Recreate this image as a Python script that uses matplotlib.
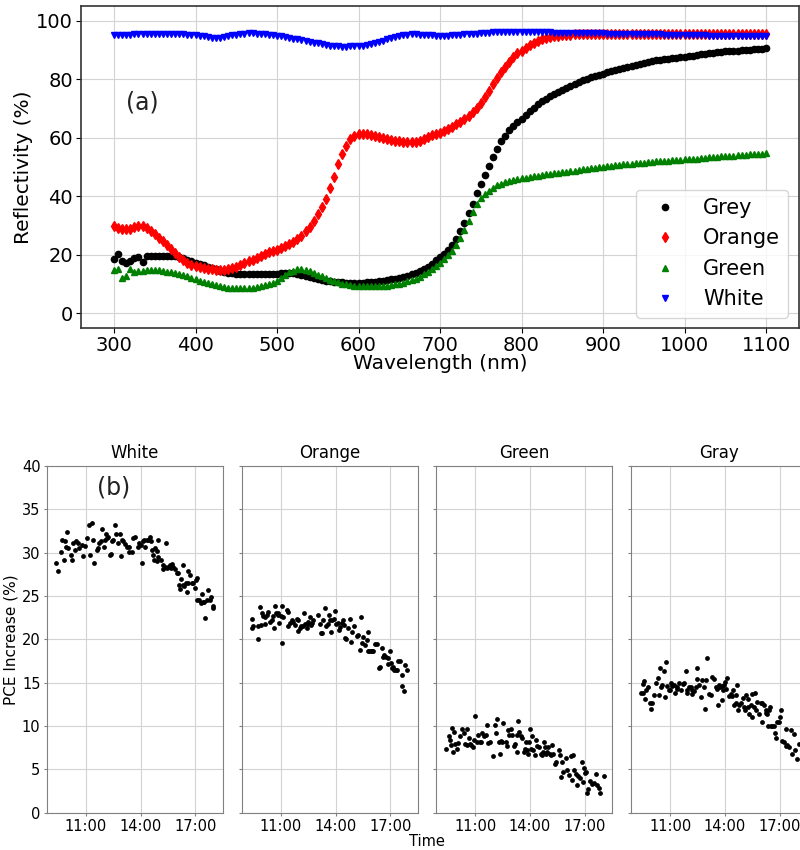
import numpy as np
import matplotlib
matplotlib.use("Agg")
import matplotlib.pyplot as plt

# ---------------- (a) reflectance spectra, 300-1100 nm every 5 nm ----------------
wavelength = np.arange(300, 1101, 5)

refl_grey = [
    18.6, 20.4, 17.8, 17.2, 17.8, 18.8, 19.3, 17.5, 19.7, 19.5,   # 300
    19.5, 19.6, 19.6, 19.7, 19.7, 19.5, 19.2, 18.8, 18.3, 17.8,   # 350
    17.3, 16.9, 16.5, 16.0, 15.5, 15.1, 14.6, 14.2, 13.9, 13.7,   # 400
    13.5, 13.4, 13.3, 13.3, 13.3, 13.3, 13.3, 13.3, 13.4, 13.5,   # 450
    13.6, 13.7, 13.8, 13.8, 13.7, 13.5, 13.2, 12.9, 12.5, 12.1,   # 500
    11.8, 11.5, 11.2, 11.0, 10.8, 10.7, 10.6, 10.5, 10.4, 10.4,   # 550
    10.4, 10.5, 10.6, 10.7, 10.8, 10.9, 11.1, 11.4, 11.6, 11.8,   # 600
    12.0, 12.4, 12.9, 13.3, 13.8, 14.4, 15.1, 16.0, 17.0, 18.2,   # 650
    19.3, 20.2, 21.5, 23.2, 25.4, 28.0, 30.9, 34.2, 37.5, 41.0,   # 700
    44.3, 47.4, 50.5, 53.3, 56.2, 58.8, 60.7, 62.5, 64.0, 65.3,   # 750
    66.5, 67.7, 69.0, 70.2, 71.4, 72.4, 73.4, 74.2, 75.0, 75.7,   # 800
    76.3, 77.0, 77.7, 78.4, 79.0, 79.6, 80.1, 80.6, 81.0, 81.5,   # 850
    81.9, 82.3, 82.7, 83.1, 83.5, 83.9, 84.3, 84.6, 85.0, 85.3,   # 900
    85.6, 85.9, 86.2, 86.4, 86.6, 86.8, 87.0, 87.2, 87.4, 87.5,   # 950
    87.7, 87.9, 88.1, 88.3, 88.5, 88.7, 88.9, 89.0, 89.2, 89.3,   # 1000
    89.5, 89.6, 89.7, 89.8, 89.9, 90.0, 90.1, 90.2, 90.3, 90.4,   # 1050
    90.5,
]

refl_orange = [
    29.9, 29.2, 28.8, 28.8, 28.9, 29.5, 29.9, 29.8, 29.2, 28.2,   # 300
    27.0, 25.8, 24.6, 23.3, 22.0, 20.7, 19.3, 18.1, 17.2, 16.6,   # 350
    16.2, 15.9, 15.6, 15.3, 15.0, 14.9, 14.9, 14.9, 15.0, 15.4,   # 400
    16.0, 16.6, 17.2, 17.8, 18.4, 19.0, 19.6, 20.2, 20.8, 21.3,   # 450
    21.8, 22.4, 23.0, 23.7, 24.5, 25.4, 26.6, 28.0, 29.5, 31.5,   # 500
    33.8, 36.5, 39.2, 43.0, 46.5, 51.0, 54.5, 57.3, 59.6, 60.7,   # 550
    61.2, 61.3, 61.2, 60.9, 60.5, 60.1, 59.8, 59.5, 59.2, 59.0,   # 600
    58.8, 58.6, 58.6, 58.6, 58.7, 59.0, 59.6, 60.3, 60.8, 61.3,   # 650
    61.7, 62.2, 63.0, 63.8, 64.6, 65.4, 66.3, 67.5, 68.8, 70.3,   # 700
    72.0, 73.8, 76.0, 78.4, 80.5, 82.5, 84.3, 86.0, 87.6, 88.8,   # 750
    89.8, 90.8, 91.7, 92.5, 93.1, 93.7, 94.1, 94.4, 94.7, 94.9,   # 800
    95.0, 95.1, 95.2, 95.3, 95.3, 95.4, 95.4, 95.4, 95.5, 95.5,   # 850
    95.5, 95.6, 95.5, 95.6, 95.5, 95.6, 95.6, 95.5, 95.6, 95.5,   # 900
    95.6, 95.5, 95.5, 95.6, 95.5, 95.5, 95.6, 95.5, 95.5, 95.6,   # 950
    95.5, 95.5, 95.4, 95.5, 95.5, 95.4, 95.5, 95.5, 95.4, 95.5,   # 1000
    95.5, 95.4, 95.5, 95.5, 95.4, 95.5, 95.5, 95.4, 95.5, 95.5,   # 1050
    95.5,
]

refl_green = [
    14.7, 15.2, 12.1, 12.7, 15.2, 14.2, 14.5, 14.6, 14.7, 14.8,   # 300
    14.8, 14.7, 14.5, 14.3, 14.0, 13.8, 13.5, 13.1, 12.6, 12.1,   # 350
    11.6, 11.1, 10.7, 10.3, 9.9, 9.6, 9.3, 9.0, 8.8, 8.7,         # 400
    8.6, 8.6, 8.6, 8.7, 8.8, 9.0, 9.3, 9.6, 9.9, 10.4,            # 450
    11.0, 12.0, 13.1, 14.0, 14.6, 15.0, 15.1, 14.9, 14.5, 13.9,   # 500
    13.2, 12.6, 12.0, 11.5, 11.0, 10.6, 10.2, 9.9, 9.7, 9.5,      # 550
    9.4, 9.3, 9.3, 9.3, 9.3, 9.4, 9.4, 9.5, 9.7, 9.9,             # 600
    10.2, 10.5, 10.9, 11.3, 11.8, 12.5, 13.3, 14.3, 15.3, 16.3,   # 650
    17.3, 18.5, 19.8, 21.3, 23.2, 25.6, 28.5, 31.6, 34.5, 37.2,   # 700
    39.3, 40.8, 41.9, 42.9, 43.7, 44.3, 44.8, 45.2, 45.6, 45.9,   # 750
    46.2, 46.4, 46.7, 46.9, 47.1, 47.3, 47.5, 47.7, 47.9, 48.1,   # 800
    48.3, 48.4, 48.6, 48.8, 49.0, 49.2, 49.4, 49.6, 49.8, 50.0,   # 850
    50.1, 50.3, 50.5, 50.7, 50.8, 51.0, 51.1, 51.2, 51.3, 51.4,   # 900
    51.5, 51.7, 51.8, 51.9, 52.0, 52.1, 52.2, 52.3, 52.4, 52.5,   # 950
    52.6, 52.7, 52.8, 52.9, 53.0, 53.1, 53.3, 53.4, 53.5, 53.6,   # 1000
    53.7, 53.8, 53.9, 54.0, 54.1, 54.2, 54.3, 54.4, 54.5, 54.6,   # 1050
    54.8,
]

refl_white = [
    95.1, 95.0, 95.1, 95.2, 95.2, 95.3, 95.3, 95.4, 95.4, 95.4,   # 300
    95.5, 95.5, 95.6, 95.6, 95.6, 95.5, 95.4, 95.3, 95.2, 95.1,   # 350
    95.0, 94.9, 94.7, 94.5, 94.2, 94.0, 94.2, 94.5, 94.8, 95.0,   # 400
    95.1, 95.3, 95.6, 95.8, 95.7, 95.5, 95.4, 95.3, 95.2, 95.1,   # 450
    94.9, 94.7, 94.5, 94.2, 93.9, 93.6, 93.3, 93.0, 92.7, 92.5,   # 500
    92.3, 92.0, 91.7, 91.5, 91.3, 91.2, 91.1, 91.1, 91.2, 91.3,   # 550
    91.3, 91.4, 91.6, 91.9, 92.3, 92.8, 93.2, 93.6, 94.0, 94.4,   # 600
    94.7, 95.0, 95.2, 95.3, 95.3, 95.2, 95.1, 95.0, 95.0, 94.9,   # 650
    94.9, 94.8, 94.9, 95.0, 95.1, 95.2, 95.3, 95.4, 95.5, 95.6,   # 700
    95.7, 95.8, 95.9, 96.0, 96.0, 96.1, 96.1, 96.2, 96.2, 96.2,   # 750
    96.2, 96.2, 96.1, 96.1, 96.0, 96.1, 96.0, 96.0, 95.9, 95.9,   # 800
    95.9, 95.9, 95.9, 95.8, 95.8, 95.8, 95.8, 95.7, 95.7, 95.7,   # 850
    95.7, 95.6, 95.6, 95.6, 95.5, 95.5, 95.5, 95.5, 95.4, 95.4,   # 900
    95.4, 95.4, 95.3, 95.3, 95.3, 95.2, 95.2, 95.2, 95.1, 95.1,   # 950
    95.1, 95.1, 95.0, 95.0, 95.0, 95.0, 94.9, 94.9, 94.9, 94.9,   # 1000
    94.9, 94.8, 94.8, 94.8, 94.8, 94.7, 94.7, 94.7, 94.7, 94.7,   # 1050
    94.7,
]

# ---------------- (b) PCE increase vs time of day (hours) ----------------
white_t = [9.36, 9.47, 9.63, 9.69, 9.78, 9.87, 9.96, 9.92, 10.05, 10.18,
           10.23, 10.32, 10.42, 10.47, 10.56, 10.65, 10.78, 10.84, 10.95, 11.05,
           11.15, 11.24, 11.33, 11.42, 11.47, 11.60, 11.69, 11.75, 11.82, 11.91,
           11.97, 12.06, 12.11, 12.15, 12.24, 12.33, 12.37, 12.42, 12.51, 12.61,
           12.66, 12.79, 12.88, 12.92, 12.97, 13.06, 13.15, 13.24, 13.34, 13.39,
           13.52, 13.61, 13.70, 13.88, 13.94, 14.01, 14.07, 14.12, 14.19, 14.25,
           14.34, 14.43, 14.52, 14.58, 14.65, 14.70, 14.76, 14.80, 14.89, 14.92,
           14.98, 14.98, 15.11, 15.22, 15.25, 15.34, 15.40, 15.43, 15.53, 15.62,
           15.67, 15.71, 15.80, 15.89, 16.02, 16.07, 16.13, 16.16, 16.22, 16.31,
           16.35, 16.40, 16.47, 16.53, 16.58, 16.62, 16.71, 16.80, 16.89, 16.99,
           17.02, 17.08, 17.11, 17.22, 17.30, 17.35, 17.41, 17.48, 17.53, 17.62,
           17.72, 17.81, 17.84, 17.95, 17.95]
white_pce = [28.8, 27.9, 30.1, 31.5, 29.1, 31.3, 32.4, 30.6, 30.5, 29.7,
             29.2, 31.1, 30.3, 31.3, 31.1, 30.5, 30.9, 29.6, 30.8, 31.7,
             33.2, 29.7, 33.4, 31.5, 28.8, 30.3, 30.5, 31.1, 31.3, 32.7,
             30.6, 31.5, 32.2, 31.7, 31.8, 29.7, 29.8, 31.3, 31.5, 33.2,
             32.2, 31.1, 32.2, 29.6, 31.5, 31.3, 31.0, 30.7, 30.1, 30.7,
             30.1, 31.7, 31.8, 30.7, 31.1, 30.9, 28.8, 31.3, 31.5, 30.7,
             31.5, 31.5, 31.8, 31.4, 30.3, 29.7, 29.2, 30.5, 29.0, 30.2,
             31.5, 29.5, 29.2, 28.6, 28.1, 28.4, 31.1, 28.2, 28.3, 28.6,
             28.2, 28.7, 28.3, 28.1, 27.6, 27.6, 26.3, 25.8, 27.0, 26.3,
             28.6, 26.1, 26.5, 25.5, 27.9, 26.5, 27.4, 26.5, 26.5, 25.9,
             26.9, 27.1, 24.5, 24.5, 24.2, 25.2, 24.3, 24.3, 22.5, 24.5,
             25.7, 24.5, 24.9, 23.8, 23.6]

orange_t = [9.41, 9.41, 9.50, 9.74, 9.78, 9.87, 9.92, 10.00, 10.05, 10.11,
            10.14, 10.23, 10.32, 10.42, 10.51, 10.60, 10.65, 10.69, 10.74, 10.84,
            10.87, 10.93, 11.00, 11.05, 11.09, 11.15, 11.33, 11.38, 11.42, 11.51,
            11.60, 11.69, 11.78, 11.88, 11.93, 11.97, 12.06, 12.11, 12.24, 12.28,
            12.33, 12.42, 12.48, 12.51, 12.61, 12.66, 12.73, 12.79, 13.06, 13.15,
            13.21, 13.28, 13.34, 13.43, 13.46, 13.57, 13.66, 13.70, 13.76, 13.83,
            13.94, 13.97, 14.03, 14.12, 14.19, 14.25, 14.34, 14.39, 14.49, 14.52,
            14.58, 14.70, 14.80, 14.83, 14.89, 15.03, 15.16, 15.25, 15.34, 15.40,
            15.43, 15.53, 15.62, 15.71, 15.76, 15.80, 15.85, 15.95, 16.02, 16.07,
            16.16, 16.26, 16.38, 16.44, 16.53, 16.62, 16.68, 16.75, 16.86, 16.89,
            16.99, 17.04, 17.08, 17.17, 17.22, 17.30, 17.35, 17.44, 17.53, 17.62,
            17.66, 17.77, 17.81, 17.90]
orange_pce = [22.3, 21.3, 21.5, 20.0, 21.5, 23.7, 21.7, 23.0, 22.7, 21.8,
              22.6, 22.8, 23.1, 22.0, 22.2, 22.7, 21.3, 23.8, 23.0, 22.8,
              23.0, 21.9, 22.7, 19.6, 23.8, 22.6, 23.4, 23.2, 21.5, 21.9,
              22.2, 22.0, 21.7, 22.4, 21.0, 22.2, 21.3, 21.5, 21.5, 23.0,
              21.8, 21.3, 21.8, 22.0, 22.6, 21.7, 21.9, 22.2, 22.8, 21.8,
              20.7, 20.7, 22.2, 23.6, 21.5, 21.8, 22.8, 22.2, 20.9, 22.2,
              22.3, 23.3, 21.8, 21.9, 21.1, 21.4, 21.9, 22.2, 21.7, 20.2,
              20.0, 21.3, 22.4, 19.7, 20.9, 21.5, 20.4, 20.5, 18.8, 22.6,
              19.6, 20.3, 19.3, 19.9, 18.6, 20.9, 18.7, 18.6, 18.7, 18.6,
              19.5, 19.5, 16.7, 16.8, 19.0, 18.0, 18.2, 18.0, 17.9, 17.2,
              18.6, 17.3, 16.7, 16.8, 16.5, 16.5, 16.5, 17.5, 17.5, 15.9,
              14.6, 14.0, 17.0, 16.5]

green_t = [9.39, 9.58, 9.63, 9.70, 9.76, 9.81, 9.85, 9.89, 10.00, 10.07,
           10.18, 10.31, 10.40, 10.43, 10.54, 10.58, 10.67, 10.73, 10.80, 10.91,
           10.95, 10.98, 11.09, 11.16, 11.27, 11.35, 11.40, 11.49, 11.58, 11.68,
           11.73, 11.82, 12.00, 12.08, 12.13, 12.22, 12.31, 12.37, 12.41, 12.50,
           12.55, 12.68, 12.73, 12.81, 12.86, 12.95, 13.04, 13.14, 13.17, 13.28,
           13.32, 13.37, 13.41, 13.50, 13.59, 13.68, 13.74, 13.77, 13.86, 13.90,
           13.96, 14.01, 14.05, 14.10, 14.19, 14.27, 14.32, 14.41, 14.50, 14.59,
           14.69, 14.74, 14.78, 14.81, 14.87, 14.96, 15.00, 15.11, 15.18, 15.24,
           15.29, 15.36, 15.42, 15.60, 15.65, 15.73, 15.78, 15.84, 15.96, 16.02,
           16.15, 16.27, 16.33, 16.38, 16.42, 16.51, 16.60, 16.64, 16.75, 16.88,
           16.93, 16.97, 17.00, 17.06, 17.15, 17.19, 17.30, 17.42, 17.51, 17.61,
           17.70, 17.79, 17.84, 18.06]
green_pce = [7.3, 8.8, 8.4, 7.8, 9.8, 7.0, 9.3, 7.9, 7.4, 8.0,
             8.8, 9.6, 9.2, 7.9, 7.8, 9.6, 8.6, 7.9, 7.8, 7.6,
             8.4, 11.1, 8.2, 9.0, 8.2, 8.1, 9.2, 8.8, 9.0, 10.1,
             8.0, 8.2, 6.5, 10.1, 9.2, 10.8, 8.2, 6.8, 8.3, 8.1,
             10.4, 8.1, 7.7, 9.5, 9.0, 9.6, 9.0, 7.7, 7.9, 7.0,
             9.0, 10.6, 9.3, 8.8, 8.6, 7.0, 7.3, 8.2, 7.2, 6.8,
             8.2, 9.7, 7.4, 8.8, 7.2, 6.7, 8.4, 7.7, 7.6, 6.8,
             6.7, 7.0, 8.2, 7.6, 6.8, 7.0, 7.6, 6.8, 6.7, 7.8,
             6.8, 5.6, 5.9, 7.2, 6.7, 4.1, 5.8, 4.7, 6.3, 4.9,
             4.3, 6.5, 3.8, 6.7, 4.9, 4.5, 3.2, 4.2, 4.0, 5.8,
             3.5, 5.1, 4.6, 4.7, 2.3, 2.7, 3.6, 3.3, 3.4, 4.5,
             3.2, 2.8, 2.3, 4.2]

gray_t = [9.39, 9.49, 9.52, 9.58, 9.63, 9.70, 9.81, 9.89, 9.94, 10.00,
          10.12, 10.22, 10.31, 10.40, 10.43, 10.49, 10.58, 10.67, 10.73, 10.80,
          10.85, 10.95, 10.98, 11.04, 11.13, 11.22, 11.27, 11.35, 11.40, 11.49,
          11.58, 11.68, 11.77, 11.86, 11.91, 11.95, 12.04, 12.13, 12.19, 12.22,
          12.31, 12.41, 12.46, 12.50, 12.59, 12.68, 12.77, 12.86, 12.90, 12.95,
          13.01, 13.14, 13.23, 13.32, 13.41, 13.50, 13.59, 13.65, 13.68, 13.74,
          13.83, 13.86, 13.90, 13.96, 14.01, 14.05, 14.14, 14.23, 14.32, 14.41,
          14.45, 14.50, 14.59, 14.63, 14.69, 14.74, 14.78, 14.87, 15.00, 15.05,
          15.11, 15.18, 15.24, 15.29, 15.32, 15.42, 15.47, 15.51, 15.60, 15.65,
          15.69, 15.78, 15.87, 15.96, 16.02, 16.05, 16.15, 16.24, 16.27, 16.33,
          16.38, 16.42, 16.47, 16.51, 16.60, 16.69, 16.75, 16.78, 16.88, 16.97,
          17.02, 17.09, 17.15, 17.24, 17.33, 17.37, 17.42, 17.51, 17.61, 17.70,
          17.79, 17.84, 17.97, 18.06]
gray_pce = [13.8, 14.9, 13.8, 15.2, 13.1, 14.1, 14.5, 12.6, 12.0, 12.7,
            13.6, 15.0, 15.5, 13.6, 16.7, 14.5, 14.7, 16.4, 13.3, 17.4,
            14.6, 14.1, 14.2, 15.0, 14.6, 14.7, 13.8, 14.3, 14.5, 15.0,
            14.2, 14.9, 15.0, 16.3, 13.8, 14.2, 14.5, 14.5, 13.7, 14.2,
            14.0, 14.5, 15.4, 16.7, 14.7, 13.4, 15.3, 14.5, 12.0, 15.3,
            17.9, 13.7, 13.6, 15.7, 15.4, 14.5, 14.3, 12.4, 14.7, 14.5,
            14.6, 13.0, 14.1, 14.7, 15.1, 14.3, 15.5, 13.5, 13.7, 13.5,
            14.2, 12.4, 12.6, 13.6, 14.7, 11.9, 12.4, 12.6, 13.2, 12.2,
            11.8, 13.6, 12.2, 13.1, 11.4, 12.4, 13.7, 11.0, 12.2, 13.8,
            11.8, 12.8, 11.4, 12.6, 10.5, 12.6, 12.4, 11.9, 11.5, 11.4,
            10.0, 11.9, 12.2, 10.0, 10.0, 10.0, 9.2, 8.6, 10.5, 10.5,
            11.0, 11.8, 8.3, 8.2, 7.7, 9.6, 7.8, 7.6, 9.5, 6.8,
            9.1, 7.2, 6.2, 7.9]

panel_names = ["White", "Orange", "Green", "Gray"]
panel_data = [(white_t, white_pce), (orange_t, orange_pce),
              (green_t, green_pce), (gray_t, gray_pce)]
time_ticks = [11, 14, 17]
time_labels = ["11:00", "14:00", "17:00"]

# ---------------- figure ----------------
fig = plt.figure(figsize=(8, 8.5), dpi=100)

ax = fig.add_axes([0.1018, 0.6141, 0.8965, 0.3788])
ax.plot(wavelength, refl_grey, ls="none", marker="o", ms=4.5, color="black", label="Grey")
ax.plot(wavelength, refl_orange, ls="none", marker="d", ms=5.5, color="red", label="Orange")
ax.plot(wavelength, refl_green, ls="none", marker="^", ms=5, color="green", label="Green")
ax.plot(wavelength, refl_white, ls="none", marker="v", ms=5, color="blue", label="White")
ax.set_xlim(260, 1140)
ax.set_ylim(-5, 105)
ax.set_xticks(range(300, 1101, 100))
ax.set_yticks(range(0, 101, 20))
ax.tick_params(labelsize=14, pad=2.5)
ax.grid(True, color="#d3d3d3", linewidth=0.8)
ax.set_axisbelow(True)
for s in ax.spines.values():
    s.set_color("#333333")
    s.set_linewidth(1.2)
ax.set_xlabel("Wavelength (nm)", fontsize=14.5)
ax.set_ylabel("Reflectivity (%)", fontsize=14.5)
ax.xaxis.set_label_coords(0.5, -0.082)
ax.yaxis.set_label_coords(-0.0675, 0.5)
ax.text(315, 72, "(a)", fontsize=17, va="center", ha="left", color="#222222")
ax.legend(loc="lower right", fontsize=15, numpoints=1)

# ---------------- (b) panels ----------------
lefts = [0.0584, 0.3021, 0.5450, 0.7888]
axes_b = []
for i, (name, (t, v)) in enumerate(zip(panel_names, panel_data)):
    axb = fig.add_axes([lefts[i], 0.0439, 0.22, 0.4079],
                       sharey=axes_b[0] if axes_b else None)
    axb.scatter(t, v, s=12, color="black", linewidths=0)
    axb.set_xlim(8.86, 18.5)
    axb.set_ylim(0, 40)
    axb.set_yticks(range(0, 41, 5))
    axb.set_xticks(time_ticks)
    axb.set_xticklabels(time_labels)
    axb.tick_params(labelsize=10.5, color="#808080", length=2.5, pad=2)
    axb.grid(True, color="#d3d3d3", linewidth=0.8)
    axb.set_axisbelow(True)
    axb.set_title(name, fontsize=12)
    for s in axb.spines.values():
        s.set_color("#808080")
    if i > 0:
        plt.setp(axb.get_yticklabels(), visible=False)
    axes_b.append(axb)

axes_b[0].set_ylabel("PCE Increase (%)", fontsize=11)
axes_b[0].yaxis.set_label_coords(-0.158, 0.5)
axes_b[0].text(11.6, 37.5, "(b)", fontsize=17, va="center", ha="left", color="#222222")
fig.text(0.534, 0.0095, "Time", ha="center", va="center", fontsize=10.5)

fig.savefig("out.png", dpi=100)
